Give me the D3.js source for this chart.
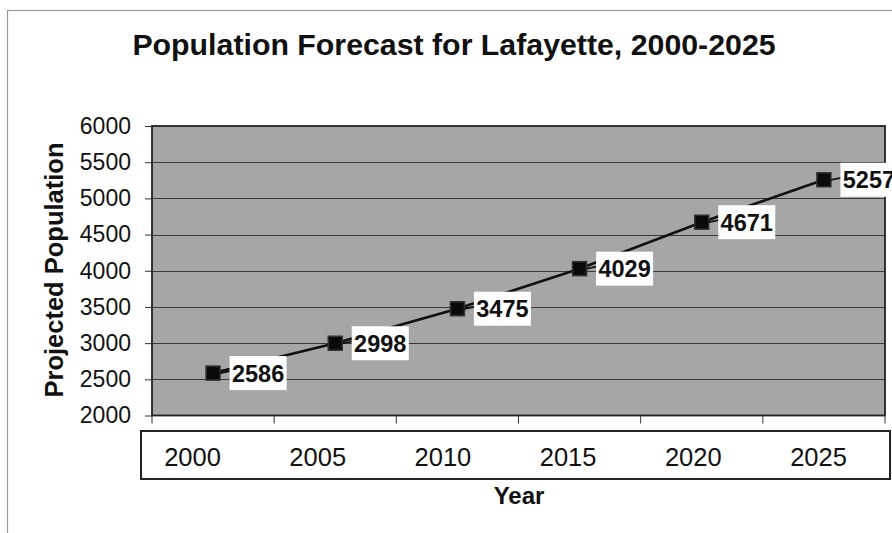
<!DOCTYPE html>
<html>
<head>
<meta charset="utf-8">
<script src="https://cdn.jsdelivr.net/npm/d3@7"></script>
<style>
  html, body { margin: 0; padding: 0; background: #fff; }
  svg { display: block; }
  text { font-family: "Liberation Sans", Arial, sans-serif; fill: #111; }
</style>
</head>
<body>
<svg id="chart" width="892" height="533"></svg>
<script>
const years = ["2000", "2005", "2010", "2015", "2020", "2025"];
const population = [2586, 2998, 3475, 4029, 4671, 5257];
const yTicks = [2000, 2500, 3000, 3500, 4000, 4500, 5000, 5500, 6000];
const titleText = "Population Forecast for Lafayette, 2000-2025";
const xTitle = "Year";
const yTitle = "Projected Population";

const svg = d3.select("#chart");
const plot = { left: 152, right: 885, top: 126, bottom: 415.5 };

const x = d3.scaleBand().domain(years).range([plot.left, plot.right]);
const y = d3.scaleLinear().domain([2000, 6000]).range([plot.bottom, plot.top]);
// category labels in the separate label box
const xLab = d3.scalePoint().domain(years).range([192, 818]);

// outer frame
svg.append("rect").attr("x", 7.5).attr("y", 10.5).attr("width", 1000).attr("height", 600)
  .attr("fill", "none").attr("stroke", "#9a9a9a").attr("stroke-width", 1.2);

// title
svg.append("text").attr("x", 454).attr("y", 55).attr("text-anchor", "middle")
  .attr("font-size", 30.3).attr("font-weight", "bold").text(titleText);

// plot background
svg.append("rect").attr("x", plot.left).attr("y", plot.top)
  .attr("width", plot.right - plot.left).attr("height", plot.bottom - plot.top)
  .attr("fill", "#a6a6a6");

// gridlines
svg.append("g").selectAll("line").data(yTicks.slice(1, -1)).join("line")
  .attr("x1", plot.left).attr("x2", plot.right)
  .attr("y1", d => Math.round(y(d)) + 0.5).attr("y2", d => Math.round(y(d)) + 0.5)
  .attr("stroke", "#3a3a3a").attr("stroke-width", 1.1);

// plot border
svg.append("rect").attr("x", plot.left).attr("y", plot.top)
  .attr("width", plot.right - plot.left).attr("height", plot.bottom - plot.top)
  .attr("fill", "none").attr("stroke", "#222").attr("stroke-width", 1.8);

// y axis
const yAxis = svg.append("g").attr("transform", `translate(${plot.left},0)`)
  .call(d3.axisLeft(y).tickValues(yTicks).tickSize(7).tickPadding(14).tickFormat(d3.format("d")));
yAxis.select(".domain").remove();
yAxis.selectAll(".tick line").attr("stroke", "#333");
yAxis.selectAll(".tick text").attr("font-size", 23)
  .attr("font-family", "Liberation Sans, Arial, sans-serif").attr("fill", "#1a1a1a");

// x tick marks at band boundaries
const boundaries = years.map(d => x(d)).concat([plot.right]);
svg.append("g").selectAll("line").data(boundaries).join("line")
  .attr("x1", d => d).attr("x2", d => d)
  .attr("y1", plot.bottom).attr("y2", plot.bottom + 8)
  .attr("stroke", "#333").attr("stroke-width", 1);

// category box
svg.append("rect").attr("x", 141).attr("y", 431).attr("width", 749).attr("height", 48)
  .attr("fill", "#fff").attr("stroke", "#222").attr("stroke-width", 2);

const xAxis = svg.append("g").attr("transform", `translate(0,431)`)
  .call(d3.axisBottom(xLab).tickSize(0).tickPadding(0));
xAxis.select(".domain").remove();
xAxis.selectAll(".tick text").attr("font-size", 25.5).attr("dy", null).attr("y", 35)
  .attr("font-family", "Liberation Sans, Arial, sans-serif").attr("fill", "#1a1a1a");

// axis titles
svg.append("text").attr("x", 519).attr("y", 504).attr("text-anchor", "middle")
  .attr("font-size", 24).attr("font-weight", "bold").text(xTitle);
svg.append("text").attr("transform", "translate(63,270) rotate(-90)")
  .attr("text-anchor", "middle").attr("font-size", 25.5).attr("font-weight", "bold").text(yTitle);

// data
const pts = years.map((d, i) => ({ year: d, value: population[i], cx: x(d) + x.bandwidth() / 2, cy: y(population[i]) }));

svg.append("path").datum(pts)
  .attr("d", d3.line().x(d => d.cx).y(d => d.cy))
  .attr("fill", "none").attr("stroke", "#111").attr("stroke-width", 2.6);

const ms = 14;
svg.append("g").selectAll("rect").data(pts).join("rect")
  .attr("x", d => d.cx - ms / 2).attr("y", d => d.cy - ms / 2)
  .attr("width", ms).attr("height", ms)
  .attr("fill", "#0a0a0a").attr("stroke", "#333").attr("stroke-width", 1.5);

// leaders
svg.append("g").selectAll("line").data(pts).join("line")
  .attr("x1", d => d.cx + ms / 2).attr("y1", d => d.cy)
  .attr("x2", d => d.cx + 17).attr("y2", d => d.cy - 2)
  .attr("stroke", "#111").attr("stroke-width", 1.8);

// labels
const lab = svg.append("g").selectAll("g").data(pts).join("g")
  .attr("transform", d => `translate(${d.cx + 16.5},${d.cy})`);
lab.append("rect").attr("x", 0).attr("y", -17).attr("width", 57).attr("height", 34).attr("fill", "#fff");
lab.append("text").attr("x", 28.5).attr("y", 8.5).attr("text-anchor", "middle")
  .attr("font-size", 23.5).attr("font-weight", "bold").attr("fill", "#0a0a0a").text(d => d.value);
</script>
</body>
</html>
